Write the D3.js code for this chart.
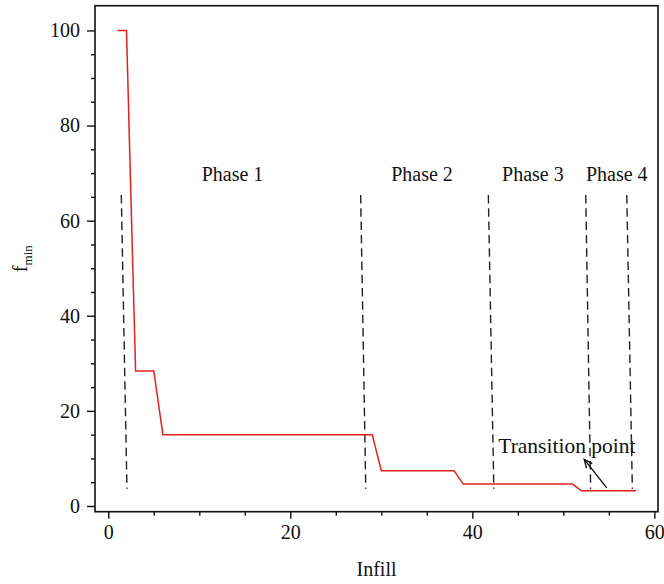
<!DOCTYPE html>
<html>
<head>
<meta charset="utf-8">
<script src="https://cdn.jsdelivr.net/npm/d3@7"></script>
<style>
  html, body { margin: 0; padding: 0; background: #fff; }
  svg text { font-family: "Liberation Serif", "Times New Roman", serif; fill: #111; }
</style>
</head>
<body>
<svg id="chart" width="664" height="584"></svg>
<script>
// Best objective value found versus infill count
const infill = [1, 2, 3, 5, 6, 29, 30, 38, 39, 51, 52, 58];
const fmin   = [100, 100, 28.4, 28.4, 15, 15, 7.4, 7.4, 4.6, 4.6, 3.2, 3.2];

// Phase boundaries (slightly slanted dashed separators): x at top and bottom
const boundaryTopX    = [1.43, 27.73, 41.76, 52.46, 56.97];
const boundaryBottomX = [2.05, 28.29, 42.36, 53.0, 57.58];
const boundaryTopY = 65.4;
const boundaryBottomY = 3.6;

const phaseLabels = ["Phase 1", "Phase 2", "Phase 3", "Phase 4"];
const phaseLabelX = [13.65, 34.47, 46.65, 55.87];
const phaseLabelY = 68.3;

const xTicks = [0, 20, 40, 60];
const yTicks = [0, 20, 40, 60, 80, 100];

const annotText = "Transition point";
const annotPos = [42.85, 11.2];
const arrowTail = [54.77, 3.8];
const arrowHead = [52.3, 9.8];

const svg = d3.select("#chart");
const L = 95, R = 658, T = 5.7, B = 511.7;

const x = d3.scaleLinear().domain([-1.46, 60.4]).range([L, R]);
const y = d3.scaleLinear().domain([-1.2, 105.2]).range([B, T]);

// Axes with minor ticks every 5
const xMinor = d3.range(0, 61, 5).filter(v => !xTicks.includes(v));
const yMinor = d3.range(0, 101, 5).filter(v => !yTicks.includes(v));

const gx = svg.append("g").attr("transform", `translate(0,${B})`);
gx.call(d3.axisBottom(x).tickValues(xTicks).tickSize(7).tickPadding(6).tickFormat(d3.format("d")));
gx.append("g").call(d3.axisBottom(x).tickValues(xMinor).tickSize(4).tickFormat(""));

const gy = svg.append("g").attr("transform", `translate(${L},0)`);
gy.call(d3.axisLeft(y).tickValues(yTicks).tickSize(8).tickPadding(7).tickFormat(d3.format("d")));
gy.append("g").call(d3.axisLeft(y).tickValues(yMinor).tickSize(4).tickFormat(""));

svg.selectAll(".domain").remove();
svg.selectAll(".tick line").attr("stroke", "#111").attr("stroke-width", 1.4);
svg.selectAll(".tick text").attr("font-size", 20).attr("fill", "#111")
   .style("font-family", "'Liberation Serif', serif");

// Frame
svg.append("rect")
  .attr("x", L).attr("y", T).attr("width", R - L).attr("height", B - T)
  .attr("fill", "none").attr("stroke", "#111").attr("stroke-width", 1.6);

// Dashed phase separators
svg.append("g").selectAll("line")
  .data(boundaryTopX)
  .join("line")
  .attr("x1", (d) => x(d)).attr("y1", y(boundaryTopY))
  .attr("x2", (d, i) => x(boundaryBottomX[i])).attr("y2", y(boundaryBottomY))
  .attr("stroke", "#222").attr("stroke-width", 1.4)
  .attr("stroke-dasharray", "8.5,4.8");

// Phase labels
svg.append("g").selectAll("text")
  .data(phaseLabels)
  .join("text")
  .attr("x", (d, i) => x(phaseLabelX[i])).attr("y", y(phaseLabelY))
  .attr("text-anchor", "middle").attr("font-size", 20)
  .text(d => d);

// Red step curve
const line = d3.line().x(d => x(d[0])).y(d => y(d[1]));
svg.append("path")
  .datum(infill.map((v, i) => [v, fmin[i]]))
  .attr("d", line)
  .attr("fill", "none").attr("stroke", "#e0221c").attr("stroke-width", 1.5);

// Annotation
svg.append("text")
  .attr("x", x(annotPos[0])).attr("y", y(annotPos[1]))
  .attr("font-size", 21.5).text(annotText);

const hx = x(arrowHead[0]), hy = y(arrowHead[1]);
const tx = x(arrowTail[0]), ty = y(arrowTail[1]);
svg.append("line")
  .attr("x1", tx).attr("y1", ty).attr("x2", hx).attr("y2", hy)
  .attr("stroke", "#111").attr("stroke-width", 1.4);
const ang = Math.atan2(ty - hy, tx - hx);
const hl = 9, spread = 0.42;
svg.append("path")
  .attr("d", `M${hx + hl * Math.cos(ang - spread)},${hy + hl * Math.sin(ang - spread)}L${hx},${hy}L${hx + hl * Math.cos(ang + spread)},${hy + hl * Math.sin(ang + spread)}`)
  .attr("fill", "none").attr("stroke", "#111").attr("stroke-width", 1.4);

// Axis titles
svg.append("text")
  .attr("x", (L + R) / 2).attr("y", 576)
  .attr("text-anchor", "middle").attr("font-size", 20)
  .text("Infill");

const yt = svg.append("text")
  .attr("transform", `translate(27,${(T + B) / 2}) rotate(-90)`)
  .attr("text-anchor", "middle").attr("font-size", 20);
yt.append("tspan").text("f");
yt.append("tspan").attr("font-size", 13).attr("dy", 5).text("min");
</script>
</body>
</html>
